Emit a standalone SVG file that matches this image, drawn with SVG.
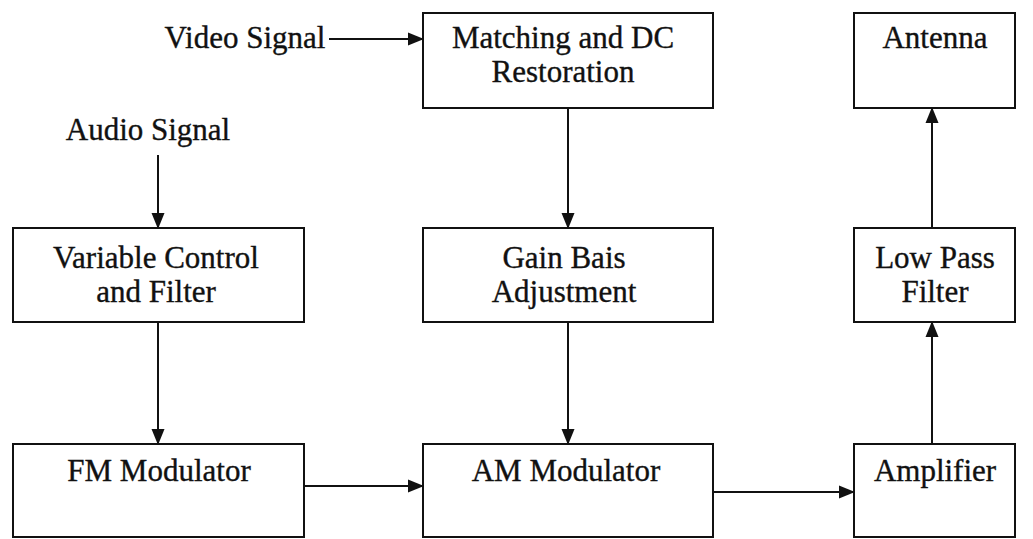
<svg xmlns="http://www.w3.org/2000/svg" width="1033" height="539" viewBox="0 0 1033 539">
<style>
.box{fill:none;stroke:#111;stroke-width:2}
.t{font-family:"Liberation Serif","Times New Roman",serif;font-size:31px;fill:#111;stroke:#111;stroke-width:0.35;text-anchor:middle}
.c{stroke:#111;stroke-width:2;fill:none;marker-end:url(#ah)}
</style>
<defs>
<marker id="ah" markerWidth="16" markerHeight="14" refX="15" refY="7" orient="auto" markerUnits="userSpaceOnUse">
<path d="M0,0.5 L16,7 L0,13.5 Z" fill="#111"/>
</marker>
</defs>
<rect width="1033" height="539" fill="#fff"/>
<g id="video-signal"><text class="t" x="245" y="48">Video Signal</text></g>
<g id="audio-signal"><text class="t" x="148" y="140">Audio Signal</text></g>
<g id="matching"><rect class="box" x="423" y="13" width="290" height="95"/><text class="t" x="563" y="48">Matching and DC</text><text class="t" x="563" y="82">Restoration</text></g>
<g id="antenna"><rect class="box" x="854" y="13" width="161" height="95"/><text class="t" x="935" y="48">Antenna</text></g>
<g id="varctrl"><rect class="box" x="13" y="228" width="291" height="94"/><text class="t" x="156" y="268">Variable Control</text><text class="t" x="156" y="302">and Filter</text></g>
<g id="gain"><rect class="box" x="423" y="228" width="290" height="94"/><text class="t" x="564" y="268">Gain Bais</text><text class="t" x="564" y="302">Adjustment</text></g>
<g id="lowpass"><rect class="box" x="854" y="228" width="161" height="94"/><text class="t" x="935" y="268">Low Pass</text><text class="t" x="935" y="302">Filter</text></g>
<g id="fm"><rect class="box" x="13" y="444" width="291" height="93"/><text class="t" x="159" y="481">FM Modulator</text></g>
<g id="am"><rect class="box" x="423" y="444" width="290" height="93"/><text class="t" x="566" y="481">AM Modulator</text></g>
<g id="amp"><rect class="box" x="854" y="444" width="161" height="93"/><text class="t" x="935" y="481">Amplifier</text></g>
<g id="connectors">
<line class="c" x1="329" y1="39" x2="423" y2="39"/>
<line class="c" x1="158" y1="155" x2="158" y2="228"/>
<line class="c" x1="568" y1="108" x2="568" y2="228"/>
<line class="c" x1="158" y1="322" x2="158" y2="444"/>
<line class="c" x1="568" y1="322" x2="568" y2="444"/>
<line class="c" x1="304" y1="486" x2="423" y2="486"/>
<line class="c" x1="713" y1="492" x2="854" y2="492"/>
<line class="c" x1="932" y1="444" x2="932" y2="322"/>
<line class="c" x1="932" y1="228" x2="932" y2="108"/>
</g>
</svg>
